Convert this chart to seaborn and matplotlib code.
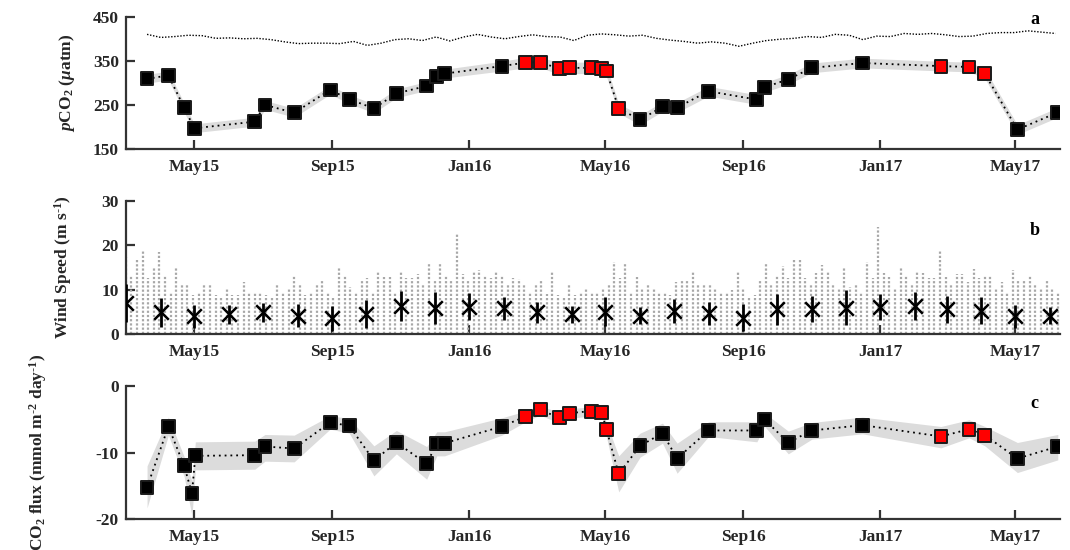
import matplotlib

matplotlib.use("Agg")
import matplotlib.pyplot as plt
import numpy as np
import pandas as pd
import seaborn as sns

# ---- values ----
pco2_dates = [
    "2015-03-20", "2015-04-08", "2015-04-22", "2015-05-01", "2015-06-24", "2015-07-03",
    "2015-07-29", "2015-08-30", "2015-09-16", "2015-10-08", "2015-10-28", "2015-11-24",
    "2015-12-03", "2015-12-10", "2016-01-30", "2016-02-20", "2016-03-04", "2016-03-21",
    "2016-03-30", "2016-04-19", "2016-04-28", "2016-05-02", "2016-05-13", "2016-06-01",
    "2016-06-21", "2016-07-04", "2016-08-01", "2016-09-13", "2016-09-20", "2016-10-11",
    "2016-11-01", "2016-12-16", "2017-02-24", "2017-03-21", "2017-04-04", "2017-05-03",
    "2017-06-08",
]
pco2_values = [309, 317, 244, 197, 212, 250, 232, 284, 263, 242, 276, 293, 315, 321, 338,
               346, 347, 332, 334, 334, 332, 327, 242, 216, 246, 244, 281, 262, 290, 308,
               334, 345, 338, 336, 321, 194, 233]
pco2_err = [10, 10, 10, 10, 10, 10, 10, 10, 10, 10, 10, 10, 10, 10, 11, 12, 12, 13, 13,
            13, 13, 12, 11, 11, 11, 11, 11, 11, 11, 11, 11, 11, 11, 11, 11, 11, 11]
pco2_red = [False] * 15 + [True] * 8 + [False] * 9 + [True] * 3 + [False] * 2

atm_start, atm_end = "2015-03-20", "2017-06-06"
atm_values = [410, 403, 405, 408, 407, 401, 402, 400, 401, 398, 393, 389, 390, 390, 389,
              394, 385, 390, 398, 400, 396, 404, 395, 404, 410, 404, 400, 405, 409, 405,
              404, 396, 408, 411, 409, 406, 408, 401, 397, 394, 390, 393, 390, 383, 390,
              396, 399, 401, 405, 403, 410, 408, 398, 406, 405, 412, 410, 412, 409, 405,
              406, 412, 414, 414, 418, 415, 412]

# upper envelope of the hourly wind record, one value per 5-day bin from 1 Mar 2015
wind_start = "2015-03-01"
wind_max = [
    17.4, 13.3, 16.7, 18.9, 12.6, 15.0, 18.4, 13.3, 9.6, 15.0, 11.4, 11.0, 8.8, 9.6, 11.2,
    11.4, 8.8, 8.1, 10.3, 8.8, 8.8, 11.7, 9.2, 9.6, 9.2, 8.8, 8.5, 11.4, 9.6, 10.3, 13.3,
    11.4, 8.8, 9.6, 11.4, 12.0, 9.6, 8.5, 15.2, 13.3, 10.7, 9.6,
    12.2, 12.7, 9.6, 13.9, 12.9, 12.9, 9.6, 14.2, 12.6, 12.7, 13.5, 11.4, 15.7, 12.2, 15.9,
    13.3, 12.2, 22.7, 13.5, 12.0, 14.2, 14.4, 13.3, 12.6, 14.1, 13.2, 11.4, 12.6, 12.4,
    11.4, 9.4, 11.1, 12.0, 9.0, 14.1, 8.8, 8.1, 11.4, 8.8, 9.6, 10.3, 9.6,
    9.6, 10.3, 11.2, 16.3, 12.6, 15.7, 9.6, 12.9, 10.3, 11.4, 10.3, 9.2, 9.2, 8.8, 11.8,
    12.2, 12.2, 14.1, 11.1, 11.1, 11.4, 10.5, 9.2, 9.2, 9.9, 13.9, 10.3, 8.5, 8.8, 12.0,
    15.9, 11.4, 13.3, 15.3, 12.6, 16.7, 16.9, 12.6, 11.1, 13.7, 15.6, 14.1,
    11.4, 10.3, 15.2, 10.7, 11.4, 9.6, 16.3, 12.6, 24.0, 13.7, 12.9, 10.3, 14.8, 13.3,
    11.1, 14.1, 13.7, 12.6, 12.6, 18.7, 12.9, 11.4, 13.5, 13.5, 11.8, 14.7, 12.7, 13.3,
    13.3, 10.3, 11.8, 9.6, 14.4, 12.2, 12.0, 13.3, 11.4, 10.3, 12.2, 10.3, 9.6,
]

# monthly mean and standard deviation (first of each month, Mar 2015 - Jun 2017)
wind_month_start = "2015-03-01"
wind_mean = [7.0, 4.9, 4.0, 4.5, 4.9, 4.2, 3.6, 4.6, 6.4, 5.8, 6.2, 5.8, 4.9, 4.5, 5.1,
             4.2, 5.3, 4.7, 3.7, 5.6, 5.7, 6.0, 6.2, 6.4, 5.6, 5.3, 4.0, 4.2]
wind_std = [4.2, 3.2, 2.6, 2.1, 2.2, 2.5, 2.8, 3.2, 3.4, 3.6, 3.0, 2.6, 2.3, 1.9, 3.2,
            1.9, 2.7, 2.6, 3.0, 3.5, 3.0, 4.0, 2.9, 3.1, 3.1, 3.1, 2.6, 2.0]

flux_dates = [
    "2015-03-20", "2015-04-08", "2015-04-22", "2015-04-29", "2015-05-02", "2015-06-24",
    "2015-07-03", "2015-07-29", "2015-08-30", "2015-09-16", "2015-10-08", "2015-10-28",
    "2015-11-24", "2015-12-03", "2015-12-10", "2016-01-30", "2016-02-20", "2016-03-04",
    "2016-03-21", "2016-03-30", "2016-04-19", "2016-04-28", "2016-05-02", "2016-05-13",
    "2016-06-01", "2016-06-21", "2016-07-04", "2016-08-01", "2016-09-13", "2016-09-20",
    "2016-10-11", "2016-11-01", "2016-12-16", "2017-02-24", "2017-03-21", "2017-04-04",
    "2017-05-03", "2017-06-08",
]
flux_values = [-15.2, -6.1, -12.0, -16.1, -10.5, -10.4, -9.1, -9.4, -5.5, -6.0, -11.2,
               -8.5, -11.7, -8.6, -8.6, -6.1, -4.6, -3.6, -4.8, -4.1, -3.8, -4.0, -6.5,
               -13.2, -9.0, -7.1, -10.9, -6.7, -6.7, -5.1, -8.5, -6.7, -5.9, -7.6, -6.5,
               -7.4, -10.9, -9.1]
flux_upper = [-12.0, -4.7, -10.6, -14.3, -8.4, -8.3, -7.3, -7.4, -4.5, -4.9, -9.0, -6.7,
              -9.1, -6.9, -6.9, -4.8, -3.8, -3.0, -4.0, -3.4, -3.2, -3.3, -5.5, -10.5,
              -7.1, -5.6, -8.6, -5.4, -5.4, -4.1, -6.8, -5.5, -4.7, -6.1, -5.1, -6.1,
              -8.5, -7.3]
flux_lower = [-18.3, -7.4, -13.6, -19.5, -12.6, -12.5, -11.3, -11.4, -6.5, -7.1, -13.5,
              -10.2, -14.0, -10.5, -10.5, -7.4, -5.4, -4.4, -5.6, -4.9, -4.5, -4.8, -7.6,
              -15.9, -10.7, -8.6, -13.1, -7.6, -8.4, -6.1, -10.2, -8.0, -7.2, -9.3, -7.8,
              -9.0, -13.0, -11.1]
flux_red = [False] * 16 + [True] * 8 + [False] * 9 + [True] * 3 + [False] * 2

tick_dates = ["2015-05-01", "2015-09-01", "2016-01-01", "2016-05-01", "2016-09-01",
              "2017-01-01", "2017-05-01"]
tick_labels = ["May15", "Sep15", "Jan16", "May16", "Sep16", "Jan17", "May17"]

# ---- style ----
sns.set_theme(style="ticks")
plt.rcParams["font.family"] = ["Liberation Serif", "DejaVu Serif"]
plt.rcParams["font.weight"] = "bold"
plt.rcParams["axes.labelweight"] = "bold"
plt.rcParams["axes.unicode_minus"] = False
plt.rcParams["mathtext.fontset"] = "custom"
plt.rcParams["mathtext.rm"] = "Liberation Serif:bold"
plt.rcParams["mathtext.it"] = "Liberation Serif:italic:bold"
plt.rcParams["mathtext.bf"] = "Liberation Serif:bold"

AXIS_COLOR = "#333333"
BAND = "#dcdcdc"
DOTTED = (0, (1, 2.2))
SQUARE = 85

fig = plt.figure(figsize=(10.7, 5.5), dpi=100)
ax_a = fig.add_axes([0.1175, 0.7291, 0.8732, 0.2405])
ax_b = fig.add_axes([0.1175, 0.3922, 0.8732, 0.2429])
ax_c = fig.add_axes([0.1175, 0.0558, 0.8732, 0.2429])


def draw_series(ax, dates, values, lower, upper, red):
    ax.fill_between(dates, lower, upper, color=BAND, lw=0, zorder=1)
    sns.lineplot(x=dates, y=values, ax=ax, color="black", lw=1.3, linestyle=DOTTED,
                 zorder=2)
    sns.scatterplot(x=dates, y=values, hue=red, palette={False: "black", True: "#ff0000"},
                    marker="s", s=SQUARE, edgecolor="#1a1a1a", linewidth=1.4,
                    legend=False, ax=ax, zorder=3)


# panel a: pCO2
d = pd.to_datetime(pco2_dates)
v = np.array(pco2_values, dtype=float)
e = np.array(pco2_err, dtype=float)
draw_series(ax_a, d, v, v - e, v + e, pco2_red)
atm_dates = pd.date_range(atm_start, atm_end, periods=len(atm_values))
sns.lineplot(x=atm_dates, y=atm_values, ax=ax_a, color="black", lw=1.0,
             linestyle=(0, (1, 1.2)))
ax_a.set_ylim(150, 450)
ax_a.set_yticks([150, 250, 350, 450])
ax_a.set_ylabel(r"$\it{p}$CO$_2$ ($\mu$atm)", fontsize=12.5)
ax_a.yaxis.set_label_coords(-0.052, 0.5)

# panel b: wind speed
wind_dates = pd.date_range(wind_start, periods=len(wind_max), freq="5D")
ax_b.vlines(wind_dates, 0, wind_max, colors="#a8a8a8", linestyles=(0, (1, 0.9)),
            lw=1.6, zorder=1)
month_dates = pd.date_range(wind_month_start, periods=len(wind_mean), freq="MS")
ax_b.errorbar(month_dates, wind_mean, yerr=wind_std, fmt="none", ecolor="black",
              elinewidth=2.0, capsize=0, zorder=3)
sns.scatterplot(x=month_dates, y=wind_mean, marker="x", s=110, color="black",
                linewidth=1.8, ax=ax_b, zorder=4)
ax_b.set_ylim(0, 30)
ax_b.set_yticks([0, 10, 20, 30])
ax_b.set_ylabel(r"Wind Speed (m s$^{\text{-1}}$)", fontsize=12.5)
ax_b.yaxis.set_label_coords(-0.055, 0.5)

# panel c: CO2 flux
draw_series(ax_c, pd.to_datetime(flux_dates), flux_values, flux_lower, flux_upper, flux_red)
ax_c.set_ylim(-20, 0)
ax_c.set_yticks([-20, -10, 0])
ax_c.set_ylabel(r"CO$_2$ flux (mmol m$^{\text{-2}}$ day$^{\text{-1}}$)", fontsize=12.5)
ax_c.yaxis.set_label_coords(-0.082, 0.5)

for ax, letter, ly in [(ax_a, "a", 0.98), (ax_b, "b", 0.78), (ax_c, "c", 0.868)]:
    ax.set_xlim(pd.Timestamp("2015-03-01"), pd.Timestamp("2017-06-10"))
    ax.set_xticks(pd.to_datetime(tick_dates))
    ax.set_xticklabels(tick_labels)
    ax.set_xlabel("")
    sns.despine(ax=ax)
    for side in ("left", "bottom"):
        ax.spines[side].set_linewidth(1.6)
        ax.spines[side].set_color(AXIS_COLOR)
    ax.tick_params(direction="in", length=6.5, width=1.6, color=AXIS_COLOR,
                   labelsize=12.5, labelcolor="#262626")
    ax.tick_params(axis="x", pad=7)
    ax.tick_params(axis="y", pad=5)
    ax.text(0.973, ly, letter, transform=ax.transAxes, ha="center", va="center",
            fontsize=13, fontweight="bold", color="black")

fig.savefig("out.png", dpi=100)
plt.close(fig)
